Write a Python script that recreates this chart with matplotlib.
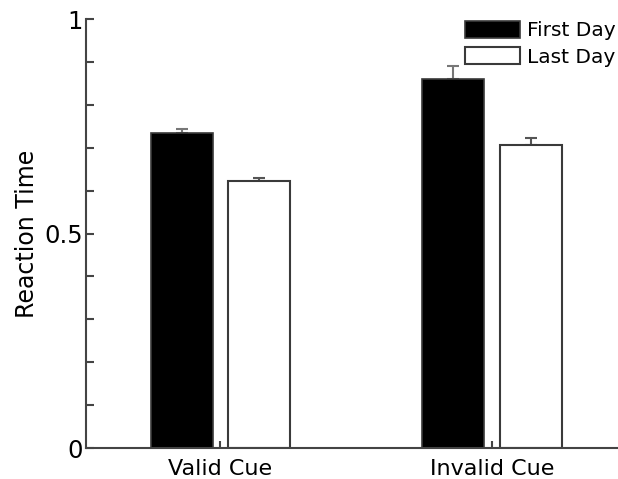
import matplotlib.pyplot as plt
import numpy as np

# data
conditions = ["Valid Cue", "Invalid Cue"]
first_day = [0.734, 0.860]
first_day_err = [0.010, 0.030]
last_day = [0.622, 0.706]
last_day_err = [0.007, 0.017]
y_ticks = [0, 0.5, 1]
y_tick_labels = ["0", "0.5", "1"]

# figure parameters
XLABEL_SIZE = 16
YLABEL_SIZE = 17
TICK_SIZE = 17.5
LEGEND_SIZE = 14.5
EDGE = '#3a3a3a'

fig = plt.figure(figsize=(6.18, 4.79), dpi=100)
ax = fig.add_axes([0.139, 0.0647, 0.861, 0.8956])

ind = np.arange(1, len(conditions) + 1)
width = 0.228
offset = 0.142

ax.bar(ind - offset, first_day, width, color='black', edgecolor=EDGE, linewidth=1.2,
       label='First Day', zorder=2)
ax.bar(ind + offset, last_day, width, color='white', edgecolor=EDGE, linewidth=1.5,
       label='Last Day', zorder=2)
ax.errorbar(ind - offset, first_day, yerr=[np.zeros(len(first_day)), first_day_err],
            fmt='none', ecolor='#777777', elinewidth=1.5, capsize=4, capthick=1.5, zorder=1)
ax.errorbar(ind + offset, last_day, yerr=[np.zeros(len(last_day)), last_day_err],
            fmt='none', ecolor='#555555', elinewidth=1.5, capsize=4, capthick=1.5, zorder=1)

# axes
ax.set_xlim(0.505, 2.464)
ax.set_ylim(0, 1)
ax.set_xticks(ind)
ax.set_xticklabels(conditions, fontsize=XLABEL_SIZE)
ax.set_yticks(y_ticks)
ax.set_yticklabels(y_tick_labels, fontsize=TICK_SIZE)
ax.set_yticks(np.arange(0, 1.01, 0.1), minor=True)
ax.tick_params(axis='y', which='both', direction='in', length=6, width=1.5,
               color='#444444', pad=2)
ax.tick_params(axis='x', direction='in', length=5, width=1.5, color='#444444', pad=8)
ax.set_ylabel("Reaction Time", fontsize=YLABEL_SIZE, labelpad=4)

for side in ['top', 'right']:
    ax.spines[side].set_visible(False)
for side in ['left', 'bottom']:
    ax.spines[side].set_color('#444444')
    ax.spines[side].set_linewidth(1.5)

leg = ax.legend(loc='upper right', bbox_to_anchor=(1.0, 1.0), frameon=False,
                prop={'size': LEGEND_SIZE}, handlelength=2.75, handleheight=0.9,
                handletextpad=0.35, labelspacing=0.35, borderaxespad=0.0,
                borderpad=0.1)

fig.savefig('out.png', dpi=100)
